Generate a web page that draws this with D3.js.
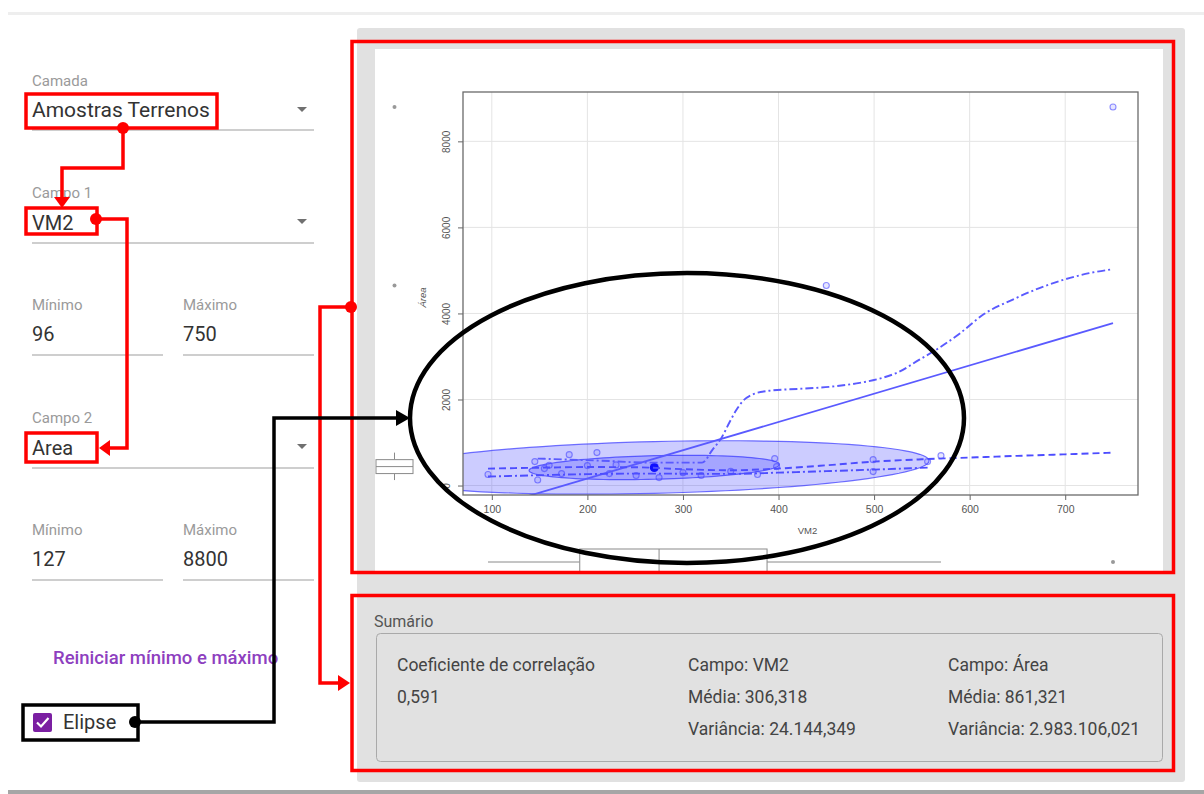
<!DOCTYPE html>
<html><head><meta charset="utf-8">
<script src="https://cdn.jsdelivr.net/npm/d3@7"></script>
<style>
html,body{margin:0;padding:0;background:#fff;}
svg{display:block;}
</style></head><body>
<svg id="c" width="1204" height="794"></svg>
<script>
// ---- Scatter data: VM2 (x) vs Área (y) ----
const vm2  = [96, 145, 148, 155, 160, 173, 181, 200, 210, 223, 230, 251, 275, 300, 319, 350, 378, 396, 398, 450, 499, 499, 556, 570, 750];
const area = [255, 556, 127, 394, 470, 278, 718, 463, 765, 278, 480, 232, 185, 300, 232, 330, 255, 626, 440, 4650, 602, 324, 556, 695, 8800];

// Least-squares line (Área = a + b·VM2)
const regIntercept = -1151;
const regSlope = 6.57;

// Loess smoother (dashed)
const smoothX = [96, 150, 200, 250, 300, 350, 400, 450, 500, 550, 600, 650, 700, 750];
const smoothY = [394, 415, 430, 425, 380, 355, 395, 470, 556, 610, 650, 690, 725, 765];

// Conditional spread, lower (dash-dot)
const lowerX = [96, 150, 200, 250, 300, 350, 400, 450, 500, 556];
const lowerY = [209, 240, 265, 278, 275, 270, 300, 335, 371, 417];

// Conditional spread, upper (dash-dot)
const upperX = [148, 213, 265, 320, 331, 341, 349, 356, 363, 372, 390, 422, 453, 485, 505, 526, 547, 568, 589, 615, 644, 673, 697, 725, 750];
const upperY = [626, 579, 533, 533, 834, 1136, 1483, 1761, 1970, 2109, 2202, 2248, 2294, 2387, 2480, 2642, 2920, 3198, 3523, 3986, 4311, 4589, 4774, 4936, 5029];

// Data ellipses (centre, scale per axis, correlation, radii for the two levels)
const ellipseCenter = [270, 420];
const ellipseScale = [111, 240];
const ellipseCorr = 0.25;
const ellipseRadii = [2.59, 1.18];

// Marginal box plots: [low whisker, Q1, median, Q3, high whisker]
const vm2Box = [96, 192, 275, 388, 570];
const vm2Outliers = [750];
const areaBox = [127, 278, 440, 602, 765];
const areaOutliers = [4650, 8800];

// Axis ticks
const xTicks = [100, 200, 300, 400, 500, 600, 700];
const yTicks = [0, 2000, 4000, 6000, 8000];

// Form values
const camada = "Amostras Terrenos";
const campo1 = "VM2", campo2 = "Area";
const campo1Min = "96", campo1Max = "750";
const campo2Min = "127", campo2Max = "8800";

// Summary
const corrText = "0,591";
const campo1Stats = ["Campo: VM2", "Média: 306,318", "Variância: 24.144,349"];
const campo2Stats = ["Campo: Área", "Média: 861,321", "Variância: 2.983.106,021"];

const svg = d3.select("#c");
const UI = "Roboto, 'Noto Sans', sans-serif";
const PF = "'Liberation Sans', Arial, sans-serif";

// ---- page chrome ----
svg.append("rect").attr("x", 8).attr("y", 12).attr("width", 1196).attr("height", 3).attr("fill", "#eeeeee");
svg.append("rect").attr("x", 8).attr("y", 790).attr("width", 1196).attr("height", 4).attr("fill", "#a6a6a6");
svg.append("rect").attr("x", 357).attr("y", 28).attr("width", 828).attr("height", 754).attr("rx", 3).attr("fill", "#e1e1e1");
svg.append("rect").attr("x", 375).attr("y", 49).attr("width", 788).attr("height", 524).attr("fill", "#ffffff");

// ---- left form ----
const form = svg.append("g").attr("font-family", UI);
function label(x, y, t) {
  form.append("text").attr("x", x).attr("y", y).attr("font-size", 15).attr("fill", "#9a9a9a").text(t);
}
function value(x, y, t, fs) {
  form.append("text").attr("x", x).attr("y", y).attr("font-size", fs || 20).attr("fill", "#333").text(t);
}
function underline(x1, x2, y) {
  form.append("line").attr("x1", x1).attr("x2", x2).attr("y1", y).attr("y2", y).attr("stroke", "#9e9e9e").attr("stroke-width", 1.2);
}
function caret(y) {
  form.append("path").attr("d", `M297,${y - 3}L307,${y - 3}L302,${y + 2}Z`).attr("fill", "#707070");
}
label(32, 86, "Camada"); value(32, 117, camada, 21); underline(32, 314, 130); caret(110);
label(32, 198, "Campo 1"); value(32, 230, campo1); underline(32, 314, 243); caret(222);
label(32, 310, "Mínimo"); label(183, 310, "Máximo");
value(32, 341, campo1Min); value(183, 341, campo1Max);
underline(32, 163, 355); underline(183, 314, 355);
label(32, 423, "Campo 2"); value(32, 455, campo2); underline(32, 314, 468); caret(447);
label(32, 535, "Mínimo"); label(183, 535, "Máximo");
value(32, 566, campo2Min); value(183, 566, campo2Max);
underline(32, 163, 580); underline(183, 314, 580);
form.append("text").attr("x", 53).attr("y", 664).attr("font-size", 18.5).attr("font-weight", 500)
  .attr("fill", "#8e3fbf").text("Reiniciar mínimo e máximo");
form.append("rect").attr("x", 33).attr("y", 713).attr("width", 19).attr("height", 19).attr("rx", 2).attr("fill", "#7b1fa2");
form.append("path").attr("d", "M37,722.5L41,726.5L48.5,718").attr("fill", "none").attr("stroke", "#fff").attr("stroke-width", 2.2);
value(63, 729, "Elipse");

// ---- plot ----
const pL = 463, pR = 1138, pT = 92, pB = 495;
const xs = d3.extent(vm2), ys = d3.extent(area);
const xPad = (xs[1] - xs[0]) * 0.04, yPad = (ys[1] - ys[0]) * 0.04;
const x = d3.scaleLinear().domain([xs[0] - xPad, xs[1] + xPad]).range([pL, pR]);
const y = d3.scaleLinear().domain([ys[0] - yPad, ys[1] + yPad]).range([pB, pT]);

const plot = svg.append("g").attr("font-family", PF);
svg.append("defs").append("clipPath").attr("id", "pc")
  .append("rect").attr("x", pL).attr("y", pT).attr("width", pR - pL).attr("height", pB - pT);

// grid
plot.append("g").selectAll("line").data(xTicks).join("line")
  .attr("x1", d => x(d)).attr("x2", d => x(d)).attr("y1", pT).attr("y2", pB)
  .attr("stroke", "#e4e4e4").attr("stroke-width", 1);
plot.append("g").selectAll("line").data(yTicks).join("line")
  .attr("x1", pL).attr("x2", pR).attr("y1", d => y(d)).attr("y2", d => y(d))
  .attr("stroke", "#e4e4e4").attr("stroke-width", 1);

// axes
const xAxis = plot.append("g").attr("transform", `translate(0,${pB})`)
  .call(d3.axisBottom(x).tickValues(xTicks).tickSize(5).tickPadding(6).tickFormat(d3.format("d")));
xAxis.select(".domain").remove();
xAxis.selectAll("line").attr("stroke", "#666");
xAxis.selectAll("text").attr("font-size", 10.5).attr("fill", "#555").attr("font-family", PF);

const yAxis = plot.append("g").attr("transform", `translate(${pL},0)`)
  .call(d3.axisLeft(y).tickValues(yTicks).tickSize(5).tickFormat(d3.format("d")));
yAxis.select(".domain").remove();
yAxis.selectAll("line").attr("stroke", "#666");
yAxis.selectAll("text").attr("font-size", 10).attr("fill", "#555").attr("font-family", PF)
  .attr("x", 0).attr("dy", 0).attr("text-anchor", "middle")
  .attr("transform", "translate(-13,0) rotate(-90)");

plot.append("text").attr("x", (pL + pR) / 2 + 7).attr("y", 534).attr("text-anchor", "middle")
  .attr("font-size", 9.5).attr("fill", "#555").text("VM2");
plot.append("text").attr("transform", `translate(426,${(pT + pB) / 2 + 4}) rotate(-90)`)
  .attr("text-anchor", "middle").attr("font-size", 9.5).attr("font-style", "italic").attr("fill", "#555").text("Área");

// clipped content
const inner = plot.append("g").attr("clip-path", "url(#pc)");

// ellipses
function ellipsePath(r) {
  const [cx, cy] = ellipseCenter, [sx, sy] = ellipseScale;
  const p = d3.range(0, 361, 3).map(a => {
    const t = a * Math.PI / 180, c = Math.cos(t), s = Math.sin(t);
    return [x(cx + r * c * sx), y(cy + r * (c * ellipseCorr * sy + s * sy * Math.sqrt(1 - ellipseCorr * ellipseCorr)))];
  });
  return d3.line()(p) + "Z";
}
inner.selectAll("path.ell").data(ellipseRadii).join("path").attr("class", "ell")
  .attr("d", d => ellipsePath(d))
  .attr("fill", "rgba(40,40,255,0.24)").attr("stroke", "rgba(40,40,255,0.65)").attr("stroke-width", 1.2);

// points
const pts = vm2.map((v, i) => [v, area[i]]);
inner.selectAll("circle.pt").data(pts).join("circle").attr("class", "pt")
  .attr("cx", d => x(d[0])).attr("cy", d => y(d[1])).attr("r", 3)
  .attr("fill", "rgba(90,90,255,0.15)").attr("stroke", "rgba(70,70,255,0.6)").attr("stroke-width", 1.1);
inner.append("circle").attr("cx", x(ellipseCenter[0])).attr("cy", y(ellipseCenter[1])).attr("r", 4.5).attr("fill", "#1010ff");

// regression line
inner.append("line")
  .attr("x1", x(xs[0])).attr("y1", y(regIntercept + regSlope * xs[0]))
  .attr("x2", x(xs[1])).attr("y2", y(regIntercept + regSlope * xs[1]))
  .attr("stroke", "#5a5aff").attr("stroke-width", 1.8);

const line = d3.line().curve(d3.curveMonotoneX).x(d => x(d[0])).y(d => y(d[1]));
inner.append("path").attr("d", line(smoothX.map((v, i) => [v, smoothY[i]])))
  .attr("fill", "none").attr("stroke", "#4d4dff").attr("stroke-width", 1.9).attr("stroke-dasharray", "7,4");
inner.append("path").attr("d", line(lowerX.map((v, i) => [v, lowerY[i]])))
  .attr("fill", "none").attr("stroke", "#4d4dff").attr("stroke-width", 1.9).attr("stroke-dasharray", "8,3,2,3");
inner.append("path").attr("d", line(upperX.map((v, i) => [v, upperY[i]])))
  .attr("fill", "none").attr("stroke", "#5a5aff").attr("stroke-width", 1.9).attr("stroke-dasharray", "8,3,2,3");

// frame
plot.append("rect").attr("x", pL).attr("y", pT).attr("width", pR - pL).attr("height", pB - pT)
  .attr("fill", "none").attr("stroke", "#6a6a6a").attr("stroke-width", 1.3);

// marginal box plot for Área (left)
const bx = 394.5, bw = 18.5;
const bp = plot.append("g").attr("stroke", "#8a8a8a").attr("fill", "none").attr("stroke-width", 1);
bp.append("line").attr("x1", bx).attr("x2", bx).attr("y1", y(areaBox[0])).attr("y2", y(areaBox[1]));
bp.append("line").attr("x1", bx).attr("x2", bx).attr("y1", y(areaBox[3])).attr("y2", y(areaBox[4]));
bp.append("rect").attr("x", bx - bw).attr("width", 2 * bw).attr("y", y(areaBox[3])).attr("height", y(areaBox[1]) - y(areaBox[3])).attr("fill", "#fff");
bp.append("line").attr("x1", bx - bw).attr("x2", bx + bw).attr("y1", y(areaBox[2])).attr("y2", y(areaBox[2]));
plot.selectAll("circle.ao").data(areaOutliers).join("circle").attr("class", "ao")
  .attr("cx", bx).attr("cy", d => y(d)).attr("r", 2).attr("fill", "#999");

// marginal box plot for VM2 (bottom)
const by = 562, bh = 13;
const bq = plot.append("g").attr("stroke", "#8a8a8a").attr("fill", "none").attr("stroke-width", 1);
bq.append("line").attr("y1", by).attr("y2", by).attr("x1", x(vm2Box[0])).attr("x2", x(vm2Box[1]));
bq.append("line").attr("y1", by).attr("y2", by).attr("x1", x(vm2Box[3])).attr("x2", x(vm2Box[4]));
bq.append("rect").attr("y", by - bh).attr("height", 2 * bh).attr("x", x(vm2Box[1])).attr("width", x(vm2Box[3]) - x(vm2Box[1])).attr("fill", "#fff");
bq.append("line").attr("y1", by - bh).attr("y2", by + bh).attr("x1", x(vm2Box[2])).attr("x2", x(vm2Box[2]));
plot.selectAll("circle.vo").data(vm2Outliers).join("circle").attr("class", "vo")
  .attr("cy", by).attr("cx", d => x(d)).attr("r", 2).attr("fill", "#999");

// panel background below the plot image
svg.append("rect").attr("x", 357).attr("y", 573).attr("width", 828).attr("height", 20).attr("fill", "#e1e1e1");

// ---- summary ----
const sm = svg.append("g").attr("font-family", UI).attr("fill", "#444");
sm.append("text").attr("x", 374).attr("y", 627).attr("font-size", 16).attr("fill", "#555").text("Sumário");
sm.append("rect").attr("x", 376.5).attr("y", 633.5).attr("width", 786).attr("height", 128).attr("rx", 4)
  .attr("fill", "none").attr("stroke", "#a9a9a9").attr("stroke-width", 1);
const rowsY = [671, 703, 735];
sm.append("text").attr("x", 397).attr("y", rowsY[0]).attr("font-size", 17.5).text("Coeficiente de correlação");
sm.append("text").attr("x", 397).attr("y", rowsY[1]).attr("font-size", 17.5).text(corrText);
campo1Stats.forEach((t, i) => sm.append("text").attr("x", 688).attr("y", rowsY[i]).attr("font-size", 17.5).text(t));
campo2Stats.forEach((t, i) => sm.append("text").attr("x", 948).attr("y", rowsY[i]).attr("font-size", 17.5).text(t));

// ---- callouts ----
const ann = svg.append("g").attr("fill", "none").attr("stroke-linejoin", "miter");
const RED = "#ff0000";
function box(x0, y0, x1, y1, col) {
  ann.append("rect").attr("x", x0).attr("y", y0).attr("width", x1 - x0).attr("height", y1 - y0)
    .attr("stroke", col).attr("stroke-width", 3.5);
}
function connector(p, col, head) {
  ann.append("path").attr("d", d3.line()(p)).attr("stroke", col).attr("stroke-width", 3.5);
  ann.append("circle").attr("cx", p[0][0]).attr("cy", p[0][1]).attr("r", 6).attr("fill", col);
  ann.append("path").attr("d", head).attr("fill", col);
}
box(26, 94, 217, 128, RED);
box(26, 208, 97, 234, RED);
box(26, 433, 97, 462, RED);
box(352, 41.5, 1173.5, 572.5, RED);
box(352, 595.5, 1173.5, 770.5, RED);
box(23, 705, 138, 740, "#000");

connector([[123, 128], [123, 168], [62, 168], [62, 199]], RED, "M54,197L70,197L62,208Z");
connector([[96, 219], [127, 219], [127, 448], [108, 448]], RED, "M110,440L110,456L99,448Z");
connector([[351, 307], [320, 307], [320, 683], [340, 683]], RED, "M338,675L338,691L350,683Z");

ann.append("ellipse").attr("cx", 687).attr("cy", 418).attr("rx", 277).attr("ry", 145)
  .attr("stroke", "#000").attr("stroke-width", 4.5);
connector([[135, 722], [274, 722], [274, 418], [398, 418]], "#000", "M396,410L396,426L410,418Z");
</script>
</body></html>
